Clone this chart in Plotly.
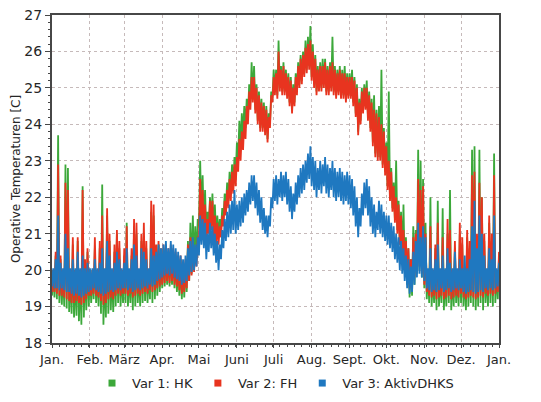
import pandas as pd
import plotly.graph_objects as go

# Operative room temperature for three heating variants over one year.
# Each series holds low / high readings taken every two days
# (low on the first day, high on the following day), one row per month.
STEP_DAYS = 2

hk_low = [
    19.3, 19.25, 19.2, 19.1, 19.05, 19.0, 18.95, 18.85, 18.8, 18.7, 18.75, 18.6, 18.5, 18.7, 18.9, 19.0,
    19.1, 19.2, 19.1, 19.0, 18.8, 18.5, 18.7, 18.8, 18.9, 18.85, 19.0, 19.1, 19.0, 19.1,
    19.1, 19.0, 19.1, 18.9, 19.0, 19.1, 19.0, 19.1, 19.15, 19.1, 19.2, 19.1, 19.2, 19.3, 19.4,
    19.5, 19.55, 19.6, 19.55, 19.6, 19.5, 19.4, 19.3, 19.2, 19.25, 19.4, 19.7, 19.9, 20.1, 20.3,
    21.2, 21.4, 21.2, 20.9, 21.2, 21.3, 21.1, 20.9, 20.9, 21.1, 21.4, 21.7, 21.9, 22.1, 22.3, 22.6,
    23.1, 23.4, 23.7, 23.9, 24.2, 24.6, 24.7, 24.4, 24.1, 23.9, 23.9, 23.8, 23.6, 24.0, 24.7,
    24.9, 24.8, 25.0, 24.9, 24.9, 24.8, 24.6, 24.4, 24.6, 24.9, 25.1, 25.2, 25.4, 25.5, 25.6,
    25.3, 25.1, 24.9, 25.0, 25.0, 25.1, 24.9, 24.9, 25.0, 24.9, 24.8, 24.9, 24.8, 24.8, 24.7, 24.8,
    24.8, 24.6, 24.3, 23.8, 24.1, 24.4, 24.5, 24.2, 23.9, 23.5, 23.2, 23.1, 23.1, 22.9, 22.7,
    22.3, 22.0, 21.7, 21.4, 21.1, 20.7, 20.3, 20.0, 19.6, 19.25, 19.3, 19.6, 19.9, 20.0, 19.8,
    19.5, 19.2, 19.1, 19.0, 19.1, 18.9, 19.0, 19.1, 18.9, 19.0, 19.1, 18.9, 19.0, 19.1, 19.0,
    19.1, 19.0, 18.9, 19.0, 19.1, 19.0, 18.9, 19.0, 19.1, 18.9, 19.1, 19.0, 19.1, 19.0, 19.1, 19.2,
]
hk_high = [
    20.0, 20.4, 23.7, 20.3, 20.0, 22.9, 22.8, 20.0, 20.7, 20.0, 20.8, 20.0, 22.3, 20.2, 20.5, 20.0,
    20.0, 20.6, 20.0, 20.6, 22.35, 20.0, 21.5, 20.8, 20.0, 20.5, 21.0, 20.6, 20.0, 20.4,
    21.3, 20.0, 20.4, 21.2, 21.0, 20.0, 20.8, 20.9, 20.6, 20.0, 21.6, 21.5, 20.6, 20.7, 20.5,
    20.6, 20.6, 20.5, 20.6, 20.5, 20.4, 20.3, 20.3, 20.1, 20.2, 20.8, 21.3, 21.5, 21.2, 21.4,
    23.0, 22.6, 22.2, 21.6, 22.0, 22.1, 21.8, 21.5, 21.4, 21.7, 22.1, 22.4, 22.7, 22.9, 23.1, 23.5,
    24.1, 24.3, 24.5, 24.7, 25.1, 25.7, 25.6, 25.1, 24.9, 24.7, 24.6, 24.5, 24.3, 24.9, 25.5,
    25.5, 26.3, 25.6, 25.7, 25.5, 25.4, 25.3, 25.1, 25.4, 25.7, 25.9, 26.0, 26.3, 26.4, 26.7,
    26.2, 25.9, 25.6, 25.7, 25.8, 25.8, 25.6, 25.7, 26.4, 25.6, 25.5, 25.6, 25.5, 25.6, 25.4, 25.4,
    25.5, 25.3, 25.1, 24.7, 25.0, 25.1, 25.2, 24.9, 24.7, 24.8, 24.4, 24.5, 25.5, 23.9, 23.5,
    24.9, 22.8, 22.4, 23.0, 21.9, 21.6, 21.8, 20.9, 20.6, 20.3, 21.2, 21.1, 23.3, 23.0, 22.5,
    21.3, 20.0, 22.0, 20.0, 20.6, 21.9, 20.0, 21.7, 20.0, 21.0, 22.2, 20.0, 20.6, 20.0, 21.0,
    20.7, 20.0, 20.9, 20.6, 23.3, 23.4, 20.8, 23.3, 22.0, 20.8, 20.0, 21.3, 20.8, 23.2, 20.0, 20.4,
]

fh_low = [
    19.4, 19.4, 19.35, 19.3, 19.3, 19.25, 19.2, 19.15, 19.1, 19.1, 19.15, 19.1, 19.05, 19.1, 19.2, 19.3,
    19.3, 19.35, 19.3, 19.25, 19.15, 19.05, 19.1, 19.2, 19.25, 19.2, 19.3, 19.35, 19.3, 19.35,
    19.35, 19.3, 19.35, 19.25, 19.3, 19.35, 19.3, 19.35, 19.4, 19.35, 19.45, 19.4, 19.45, 19.5, 19.55,
    19.6, 19.65, 19.7, 19.65, 19.7, 19.6, 19.55, 19.45, 19.35, 19.4, 19.5, 19.7, 19.85, 19.95, 20.1,
    20.9, 21.2, 21.0, 20.7, 21.0, 21.1, 20.9, 20.7, 20.7, 20.9, 21.2, 21.5, 21.7, 21.9, 22.1, 22.3,
    22.7, 23.0, 23.3, 23.6, 24.0, 24.4, 24.6, 24.3, 24.0, 23.8, 23.8, 23.7, 23.5, 23.9, 24.6,
    24.8, 24.7, 24.9, 24.8, 24.8, 24.7, 24.5, 24.3, 24.5, 24.8, 25.0, 25.1, 25.3, 25.4, 25.5,
    25.2, 25.0, 24.8, 24.9, 24.9, 25.0, 24.8, 24.8, 24.9, 24.8, 24.7, 24.8, 24.7, 24.7, 24.6, 24.7,
    24.7, 24.5, 24.2, 23.7, 24.0, 24.3, 24.4, 24.1, 23.8, 23.4, 23.1, 23.0, 23.0, 22.8, 22.6,
    22.2, 21.9, 21.6, 21.3, 21.0, 20.7, 20.4, 20.1, 19.8, 19.5, 19.6, 19.8, 20.0, 20.1, 19.9,
    19.6, 19.4, 19.3, 19.25, 19.3, 19.2, 19.25, 19.3, 19.2, 19.25, 19.3, 19.2, 19.25, 19.3, 19.25,
    19.35, 19.25, 19.2, 19.25, 19.3, 19.25, 19.2, 19.25, 19.3, 19.25, 19.35, 19.3, 19.35, 19.3, 19.35, 19.4,
]
fh_high = [
    20.0, 20.5, 22.9, 20.4, 20.0, 22.4, 22.2, 20.0, 20.9, 20.0, 20.9, 20.0, 22.2, 20.3, 20.6, 20.0,
    20.0, 20.9, 20.0, 20.8, 21.5, 20.0, 21.7, 21.0, 20.0, 20.7, 21.1, 20.8, 20.0, 20.6,
    21.2, 20.0, 20.6, 21.4, 21.3, 20.0, 21.0, 21.3, 20.8, 20.0, 21.9, 21.8, 20.7, 20.8, 20.6,
    20.7, 20.7, 20.6, 20.7, 20.6, 20.5, 20.4, 20.4, 20.2, 20.3, 20.7, 20.9, 20.8, 20.6, 20.9,
    22.5, 22.2, 21.8, 21.4, 21.9, 21.9, 21.5, 21.3, 21.2, 21.5, 21.9, 22.2, 22.5, 22.7, 22.9, 23.1,
    23.6, 23.8, 24.1, 24.5, 24.9, 25.3, 25.3, 25.0, 24.8, 24.6, 24.5, 24.4, 24.2, 24.8, 25.3,
    25.4, 26.0, 25.5, 25.6, 25.4, 25.3, 25.2, 25.0, 25.3, 25.6, 25.8, 25.9, 26.1, 26.2, 26.3,
    26.0, 25.8, 25.5, 25.6, 25.6, 25.7, 25.5, 25.6, 25.7, 25.5, 25.4, 25.5, 25.4, 25.4, 25.3, 25.3,
    25.3, 25.2, 25.0, 24.6, 24.9, 25.0, 25.0, 24.8, 24.6, 24.4, 24.3, 24.2, 24.0, 23.8, 23.4,
    23.0, 22.7, 22.3, 22.0, 21.8, 21.5, 21.1, 20.8, 20.6, 20.3, 20.9, 21.0, 22.5, 22.2, 22.3,
    21.0, 20.0, 21.2, 20.0, 20.7, 21.3, 20.0, 20.9, 20.0, 21.4, 21.1, 20.0, 20.8, 20.0, 21.3,
    20.9, 20.0, 21.1, 20.8, 22.6, 22.7, 21.0, 22.4, 22.0, 21.0, 20.0, 21.5, 21.0, 22.6, 20.0, 20.5,
]

dhks_low = [
    19.55, 19.5, 19.5, 19.45, 19.5, 19.45, 19.4, 19.4, 19.35, 19.3, 19.35, 19.3, 19.25, 19.3, 19.35, 19.4,
    19.45, 19.5, 19.45, 19.4, 19.35, 19.3, 19.35, 19.4, 19.45, 19.4, 19.45, 19.5, 19.45, 19.5,
    19.5, 19.45, 19.5, 19.4, 19.45, 19.5, 19.45, 19.5, 19.55, 19.5, 19.6, 19.55, 19.6, 19.7, 19.75,
    19.8, 19.85, 19.9, 19.85, 19.9, 19.8, 19.75, 19.7, 19.6, 19.65, 19.7, 19.85, 19.95, 20.0, 20.1,
    20.4, 20.7, 20.6, 20.3, 20.5, 20.6, 20.4, 20.2, 20.0, 20.3, 20.6, 20.8, 20.9, 21.0, 21.1, 21.0,
    21.1, 21.2, 21.3, 21.5, 21.6, 21.8, 21.9, 21.7, 21.5, 21.3, 21.1, 21.0, 20.9, 21.2, 21.7,
    21.9, 21.8, 22.0, 21.9, 22.0, 21.8, 21.6, 21.4, 21.6, 21.8, 22.0, 22.1, 22.2, 22.4, 22.5,
    22.3, 22.2, 22.0, 22.2, 22.1, 22.3, 22.1, 22.0, 22.2, 22.0, 21.9, 22.0, 21.9, 21.8, 21.9, 21.8,
    21.7, 21.5, 21.2, 20.9, 21.2, 21.5, 21.7, 21.5, 21.2, 21.0, 20.9, 21.1, 21.0, 20.9, 20.8,
    20.7, 20.6, 20.5, 20.3, 20.2, 20.0, 19.9, 19.7, 19.5, 19.35, 19.4, 19.6, 19.8, 19.9, 19.8,
    19.7, 19.5, 19.45, 19.4, 19.45, 19.4, 19.45, 19.5, 19.4, 19.45, 19.5, 19.4, 19.45, 19.5, 19.45,
    19.5, 19.4, 19.35, 19.4, 19.45, 19.4, 19.35, 19.4, 19.45, 19.4, 19.5, 19.45, 19.5, 19.45, 19.5, 19.55,
]
dhks_high = [
    20.05, 20.3, 21.5, 20.2, 20.05, 21.0, 20.6, 20.05, 20.3, 20.05, 20.5, 20.05, 20.4, 20.05, 20.2, 20.05,
    20.05, 20.3, 20.05, 20.2, 20.6, 20.05, 20.8, 20.4, 20.05, 20.2, 20.5, 20.3, 20.05, 20.2,
    20.6, 20.05, 20.3, 20.7, 20.4, 20.05, 20.6, 20.5, 20.3, 20.05, 20.6, 20.4, 20.5, 20.7, 20.6,
    20.7, 20.8, 20.6, 20.8, 20.7, 20.6, 20.5, 20.4, 20.3, 20.4, 20.6, 20.8, 20.9, 20.7, 20.9,
    21.5, 21.4, 21.3, 21.0, 21.3, 21.2, 21.0, 20.8, 20.7, 21.1, 21.4, 21.6, 21.8, 21.9, 22.2, 21.8,
    21.9, 22.0, 22.1, 22.2, 22.4, 22.6, 22.6, 22.4, 22.2, 22.0, 21.7, 21.5, 21.5, 22.0, 22.5,
    22.6, 22.5, 22.7, 22.6, 22.7, 22.5, 22.3, 22.1, 22.4, 22.6, 22.8, 22.9, 23.0, 23.2, 23.4,
    23.1, 23.0, 22.8, 23.0, 22.9, 23.1, 22.9, 22.8, 23.0, 22.8, 22.7, 22.8, 22.7, 22.6, 22.7, 22.6,
    22.5, 22.3, 22.0, 21.7, 22.1, 22.4, 22.5, 22.3, 22.0, 21.8, 21.6, 21.9, 21.8, 21.6, 21.5,
    21.5, 21.3, 21.2, 21.0, 20.9, 20.8, 20.6, 20.4, 20.3, 20.1, 20.5, 20.8, 21.3, 20.9, 21.2,
    20.9, 20.05, 20.6, 20.05, 20.3, 20.7, 20.05, 20.4, 20.05, 20.6, 20.2, 20.05, 20.5, 20.05, 20.3,
    20.05, 20.4, 20.05, 20.3, 21.2, 21.9, 20.6, 21.5, 21.0, 20.4, 20.05, 20.6, 20.3, 21.5, 20.05, 20.2,
]

series = [
    ("Var 1: HK", hk_low, hk_high, "#3ca83a"),
    ("Var 2: FH", fh_low, fh_high, "#e8341f"),
    ("Var 3: AktivDHKS", dhks_low, dhks_high, "#1f78c0"),
]

month_labels = ["Jan.", "Feb.", "März", "Apr.", "Mai", "Juni", "Juli",
                "Aug.", "Sept.", "Okt.", "Nov.", "Dez.", "Jan."]

year_start = pd.Timestamp("2021-01-01")
year_end = pd.Timestamp("2022-01-01")
month_starts = list(pd.date_range(year_start, year_end, freq="MS"))

FONT = "DejaVu Sans"
TEXT = "#262626"
FRAME = "#474747"
GRID = "#c6baba"

fig = go.Figure()

for name, low, high, color in series:
    xs, ys = [], []
    for k, (lo, hi) in enumerate(zip(low, high)):
        d0 = year_start + pd.Timedelta(days=STEP_DAYS * k)
        xs += [d0, d0 + pd.Timedelta(days=STEP_DAYS / 2)]
        ys += [lo, hi]
    fig.add_trace(go.Scatter(
        x=xs, y=ys, mode="lines", name=name,
        line=dict(color=color, width=1.8),
        showlegend=False, hoverinfo="skip",
    ))

# legend entries drawn as coloured squares
for name, _, _, color in series:
    fig.add_trace(go.Scatter(
        x=[None], y=[None], mode="markers", name=name,
        marker=dict(symbol="square", size=7, color=color),
    ))

fig.update_layout(
    width=541, height=402,
    margin=dict(l=52, r=42, t=15, b=59, autoexpand=False),
    paper_bgcolor="white", plot_bgcolor="white",
    font=dict(family=FONT, color=TEXT),
    legend=dict(
        orientation="h", x=0.5, xanchor="center",
        yref="container", y=0.047, yanchor="middle",
        font=dict(size=13, family=FONT, color=TEXT),
        itemwidth=30, tracegroupgap=0,
    ),
    xaxis=dict(
        type="date",
        range=[year_start, year_end],
        tickmode="array", tickvals=month_starts, ticktext=month_labels,
        tickfont=dict(size=13, family=FONT, color=TEXT),
        showgrid=True, gridcolor=GRID, griddash="dot", gridwidth=1,
        showline=True, linecolor=FRAME, linewidth=2, mirror=True,
        ticks="outside", ticklen=3, tickcolor=FRAME,
        minor=dict(ticks="outside", ticklen=2, tickcolor=FRAME,
                   dtick=6 * 86400000, tick0=year_start, showgrid=False),
        zeroline=False,
    ),
    yaxis=dict(
        range=[18, 27], dtick=1, tick0=18,
        tickfont=dict(size=14, family=FONT, color=TEXT),
        title=dict(text="Operative Temperaturen [C]",
                   font=dict(size=12, family=FONT, color=TEXT), standoff=1),
        showgrid=True, gridcolor=GRID, griddash="dot", gridwidth=1,
        showline=True, linecolor=FRAME, linewidth=2, mirror=True,
        ticks="outside", ticklen=5, tickcolor=FRAME,
        minor=dict(ticks="outside", ticklen=2, tickcolor=FRAME,
                   dtick=0.2, showgrid=False),
        zeroline=False,
    ),
)

fig.write_html("out.html")
